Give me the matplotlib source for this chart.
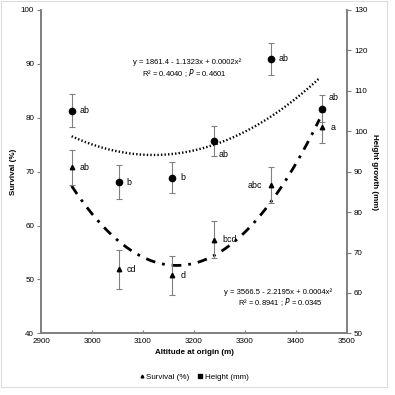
import numpy as np
import matplotlib
matplotlib.use('Agg')
import matplotlib.pyplot as plt
from matplotlib.patches import Rectangle
from matplotlib.lines import Line2D

plt.rcParams['font.family'] = ['Liberation Sans', 'DejaVu Sans']

# data
altitude = [2960, 3052, 3157, 3240, 3350, 3451]
survival = [70.8, 51.9, 50.8, 57.4, 67.5, 78.2]
survival_err = [3.2, 3.6, 3.6, 3.5, 3.3, 2.8]
survival_lab = ['ab', 'cd', 'd', 'bcd', 'abc', 'a']
height = [105.1, 87.4, 88.5, 97.6, 117.9, 105.6]
height_err = [4.0, 4.2, 3.8, 3.6, 4.0, 3.4]
height_lab = ['ab', 'b', 'b', 'ab', 'ab', 'ab']

eq_height = ['y = 1861.4 - 1.1323x + 0.0002x²', 'R² = 0.4040 ; $\\it{P}$ = 0.4601']
eq_surv = ['y = 3566.5 - 2.2195x + 0.0004x²', 'R² = 0.8941 ; $\\it{P}$ = 0.0345']

fig = plt.figure(figsize=(3.95, 3.95), dpi=100)
fig.patches.append(Rectangle((0.003, 0.02), 0.977, 0.977, transform=fig.transFigure,
                             fill=False, edgecolor='#dcdcdc', lw=0.8))
ax = fig.add_axes([0.1038, 0.156, 0.7747, 0.8187])
ax2 = ax.twinx()

spine_c = '#7f7f7f'
fs = 5.8

# survival (left axis)
ax.errorbar(altitude, survival, yerr=survival_err, fmt='^', ms=3.2, color='black',
            ecolor='#808080', elinewidth=0.8, capsize=2, capthick=0.8, zorder=3)
xs = np.linspace(altitude[0], altitude[-1] - 5, 200)
ps = np.polyfit(altitude, survival, 2)
ax.plot(xs, np.polyval(ps, xs), color='black', lw=2, ls=(0, (3.5, 2.5, 1, 2.5)), zorder=2)

# height (right axis)
ax2.errorbar(altitude, height, yerr=height_err, fmt='o', ms=4.5, color='black',
             ecolor='#808080', elinewidth=0.8, capsize=2, capthick=0.8, zorder=3)
ph = np.polyfit(altitude, height, 2)
ax2.plot(xs, np.polyval(ph, xs), color='black', lw=1.7, ls=(0, (0.6, 0.9)), zorder=2)

# letters
s_off = [(6, 0), (6, 0), (6, 0), (6, 0), (-6, 0), (6, 0)]
for i in range(len(altitude)):
    dx, dy = s_off[i]
    ax.annotate(survival_lab[i], (altitude[i], survival[i]), xytext=(dx, dy),
                textcoords='offset points', fontsize=fs + 0.6, va='center',
                ha='left' if dx > 0 else 'right')
h_off = [(6, 0), (6, 0), (6, 0), (3, -10), (6, 0), (5, 8)]
for i in range(len(altitude)):
    dx, dy = h_off[i]
    ax2.annotate(height_lab[i], (altitude[i], height[i]), xytext=(dx, dy),
                 textcoords='offset points', fontsize=fs + 0.6, va='center', ha='left')

fig.text(0.473, 0.842, eq_height[0], fontsize=fs - 0.3, ha='center', va='center')
fig.text(0.466, 0.816, eq_height[1], fontsize=fs - 0.3, ha='center', va='center')
fig.text(0.704, 0.260, eq_surv[0], fontsize=fs - 0.3, ha='center', va='center')
fig.text(0.709, 0.236, eq_surv[1], fontsize=fs - 0.3, ha='center', va='center')

ax.set_xlim(2900, 3500)
ax.set_ylim(40, 100)
ax2.set_ylim(50, 130)
ax.set_xticks(range(2900, 3501, 100))
ax.set_yticks(range(40, 101, 10))
ax2.set_yticks(range(50, 131, 10))

for a in (ax, ax2):
    a.spines['top'].set_visible(False)
    for s in ('left', 'right', 'bottom'):
        a.spines[s].set_color(spine_c)
        a.spines[s].set_linewidth(1.2)
ax.tick_params(axis='x', direction='in', length=2, width=0.8, color=spine_c, labelsize=fs, pad=3)
ax.tick_params(axis='y', direction='out', length=3, width=0.8, color=spine_c, labelsize=fs, pad=2)
ax2.tick_params(axis='y', direction='out', length=3, width=0.8, color=spine_c, labelsize=fs, pad=2)

ax.set_xlabel('Altitude at origin (m)', fontsize=fs, fontweight='bold', labelpad=3)
ax.set_ylabel('Survival (%)', fontsize=fs, fontweight='bold', labelpad=3)
ax2.set_ylabel('Height growth (mm)', fontsize=fs, fontweight='bold', rotation=-90, labelpad=8)

handles = [Line2D([], [], marker='^', ms=2, ls='none', color='black'),
           Line2D([], [], marker='s', ms=2.5, ls='none', color='black')]
fig.legend(handles, ['Survival (%)', 'Height (mm)'], loc='center', bbox_to_anchor=(0.49, 0.046),
           ncol=2, frameon=False, fontsize=fs, handletextpad=0.1, columnspacing=1.0,
           handlelength=0.8)

fig.savefig('out.png', dpi=100)
